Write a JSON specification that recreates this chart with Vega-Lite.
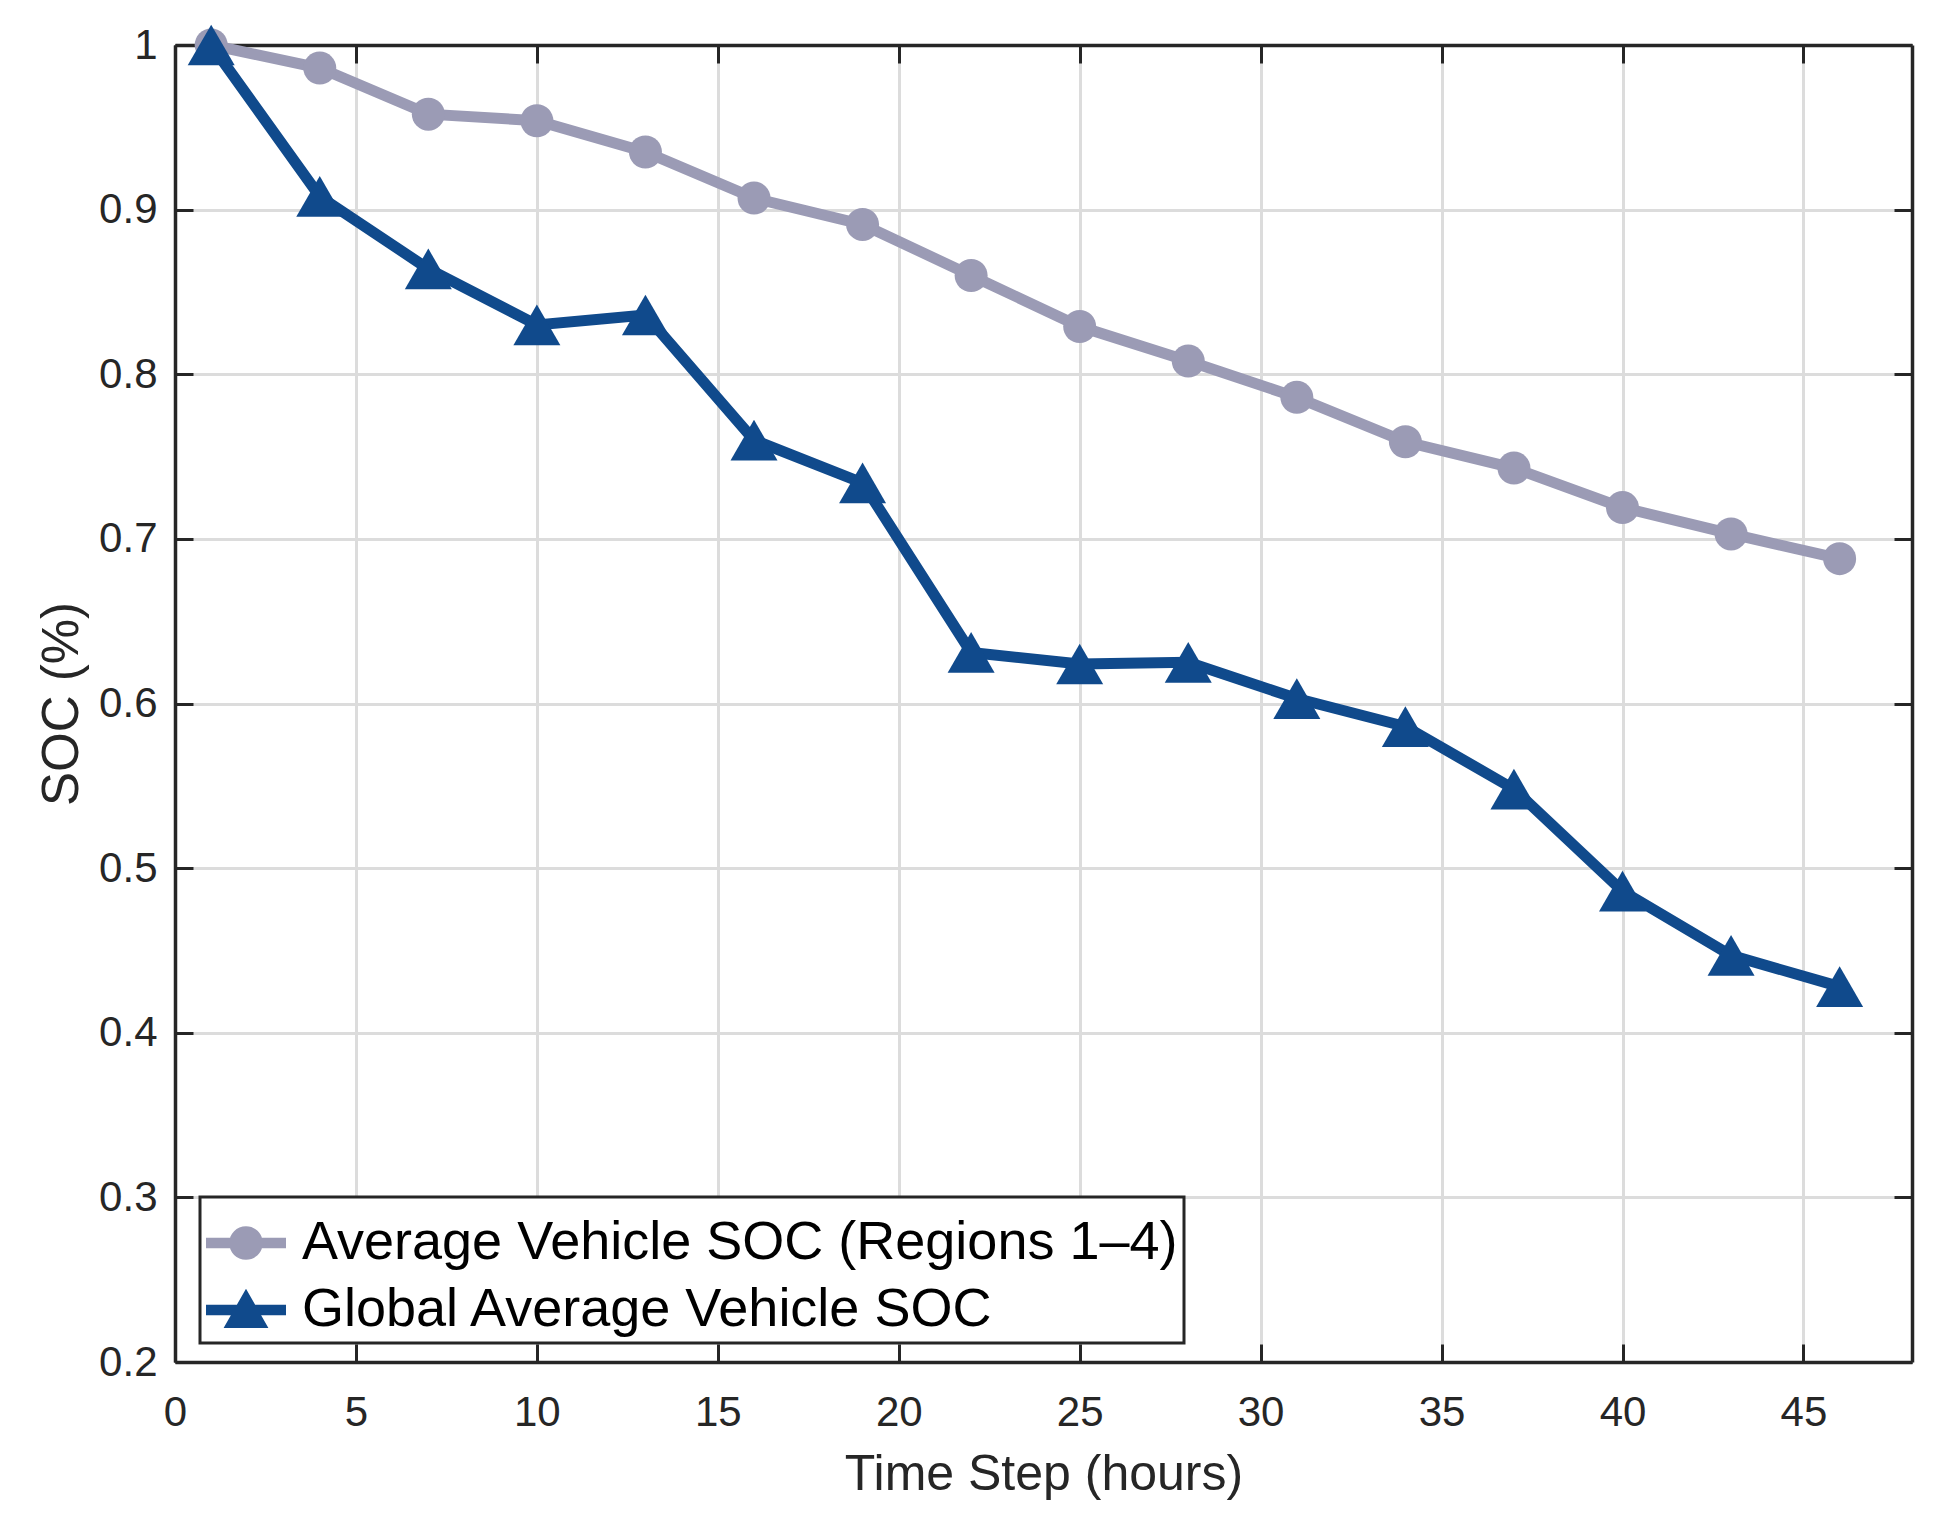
{
  "$schema": "https://vega.github.io/schema/vega-lite/v6.json",
  "width": 1737,
  "height": 1317,
  "autosize": {"type": "none"},
  "padding": {"left": 175, "top": 45, "right": 33, "bottom": 158},
  "background": "white",
  "config": {
    "view": {"stroke": null},
    "font": "Liberation Sans",
    "axis": {
      "domainColor": "#262626",
      "domainWidth": 3.5,
      "tickColor": "#262626",
      "tickWidth": 3,
      "tickSize": -18,
      "labelColor": "#262626",
      "labelFont": "Liberation Sans",
      "labelFontSize": 42,
      "titleColor": "#262626",
      "titleFont": "Liberation Sans",
      "titleFontSize": 51,
      "titleFontWeight": "normal",
      "gridColor": "#DCDCDC",
      "gridWidth": 3
    }
  },
  "data": {
    "values": [
      {"t": 1, "soc": 1.0, "series": "Average Vehicle SOC (Regions 1–4)"},
      {"t": 4, "soc": 0.986, "series": "Average Vehicle SOC (Regions 1–4)"},
      {"t": 7, "soc": 0.958, "series": "Average Vehicle SOC (Regions 1–4)"},
      {"t": 10, "soc": 0.954, "series": "Average Vehicle SOC (Regions 1–4)"},
      {"t": 13, "soc": 0.935, "series": "Average Vehicle SOC (Regions 1–4)"},
      {"t": 16, "soc": 0.907, "series": "Average Vehicle SOC (Regions 1–4)"},
      {"t": 19, "soc": 0.891, "series": "Average Vehicle SOC (Regions 1–4)"},
      {"t": 22, "soc": 0.860, "series": "Average Vehicle SOC (Regions 1–4)"},
      {"t": 25, "soc": 0.829, "series": "Average Vehicle SOC (Regions 1–4)"},
      {"t": 28, "soc": 0.808, "series": "Average Vehicle SOC (Regions 1–4)"},
      {"t": 31, "soc": 0.786, "series": "Average Vehicle SOC (Regions 1–4)"},
      {"t": 34, "soc": 0.759, "series": "Average Vehicle SOC (Regions 1–4)"},
      {"t": 37, "soc": 0.743, "series": "Average Vehicle SOC (Regions 1–4)"},
      {"t": 40, "soc": 0.719, "series": "Average Vehicle SOC (Regions 1–4)"},
      {"t": 43, "soc": 0.703, "series": "Average Vehicle SOC (Regions 1–4)"},
      {"t": 46, "soc": 0.688, "series": "Average Vehicle SOC (Regions 1–4)"},
      {"t": 1, "soc": 1.0, "series": "Global Average Vehicle SOC"},
      {"t": 4, "soc": 0.908, "series": "Global Average Vehicle SOC"},
      {"t": 7, "soc": 0.864, "series": "Global Average Vehicle SOC"},
      {"t": 10, "soc": 0.830, "series": "Global Average Vehicle SOC"},
      {"t": 13, "soc": 0.836, "series": "Global Average Vehicle SOC"},
      {"t": 16, "soc": 0.760, "series": "Global Average Vehicle SOC"},
      {"t": 19, "soc": 0.734, "series": "Global Average Vehicle SOC"},
      {"t": 22, "soc": 0.631, "series": "Global Average Vehicle SOC"},
      {"t": 25, "soc": 0.624, "series": "Global Average Vehicle SOC"},
      {"t": 28, "soc": 0.625, "series": "Global Average Vehicle SOC"},
      {"t": 31, "soc": 0.603, "series": "Global Average Vehicle SOC"},
      {"t": 34, "soc": 0.586, "series": "Global Average Vehicle SOC"},
      {"t": 37, "soc": 0.548, "series": "Global Average Vehicle SOC"},
      {"t": 40, "soc": 0.486, "series": "Global Average Vehicle SOC"},
      {"t": 43, "soc": 0.447, "series": "Global Average Vehicle SOC"},
      {"t": 46, "soc": 0.428, "series": "Global Average Vehicle SOC"}
    ]
  },
  "layer": [
    {
      "mark": {"type": "line", "strokeWidth": 11, "strokeJoin": "miter", "strokeCap": "butt"},
      "encoding": {
        "x": {
          "field": "t", "type": "quantitative",
          "scale": {"domain": [0, 48], "nice": false, "zero": false},
          "axis": {
            "orient": "bottom",
            "values": [0, 5, 10, 15, 20, 25, 30, 35, 40, 45],
            "title": "Time Step (hours)",
            "titleFontSize": 50,
            "labelPadding": 48,
            "titlePadding": 16,
            "grid": true,
            "labelFlush": false
          }
        },
        "y": {
          "field": "soc", "type": "quantitative",
          "scale": {"domain": [0.2, 1], "nice": false, "zero": false},
          "axis": {
            "orient": "left",
            "values": [0.2, 0.3, 0.4, 0.5, 0.6, 0.7, 0.8, 0.9, 1],
            "format": "~g",
            "title": "SOC (%)",
            "labelPadding": 36,
            "titlePadding": 10,
            "grid": true,
            "labelFlush": false
          }
        },
        "color": {
          "field": "series", "type": "nominal",
          "scale": {
            "domain": ["Average Vehicle SOC (Regions 1–4)", "Global Average Vehicle SOC"],
            "range": ["#9B9BB5", "#104A8C"]
          },
          "legend": {
            "orient": "none",
            "legendX": 25,
            "legendY": 1152,
            "title": null,
            "labelFont": "Liberation Sans",
            "labelFontSize": 54,
            "labelColor": "#000000",
            "labelLimit": 2000,
            "labelOffset": 16,
            "symbolSize": 6400,
            "symbolStrokeWidth": 0,
            "symbolType": "M-1,-0.13L1,-0.13L1,0.13L-1,0.13ZM-0.42,0A0.42,0.42,0,1,1,0.42,0A0.42,0.42,0,1,1,-0.42,0Z",
            "rowPadding": 0,
            "padding": 6,
            "fillColor": "white",
            "strokeColor": "#262626",
            "encode": {
              "legend": {"update": {"strokeWidth": {"value": 3}}},
              "symbols": {
                "update": {
                  "shape": {"signal": "indexof(datum.value, 'Global') >= 0 ? 'M-1,-0.13L1,-0.13L1,0.13L-1,0.13ZM0,-0.53L0.56,0.45L-0.56,0.45Z' : 'M-1,-0.13L1,-0.13L1,0.13L-1,0.13ZM-0.42,0A0.42,0.42,0,1,1,0.42,0A0.42,0.42,0,1,1,-0.42,0Z'"},
                  "fill": {"signal": "indexof(datum.value, 'Global') >= 0 ? '#104A8C' : '#9B9BB5'"},
                  "fillOpacity": {"value": 1},
                  "opacity": {"value": 1},
                  "strokeWidth": {"value": 0}
                }
              }
            }
          }
        }
      }
    },
    {
      "mark": {"type": "point", "filled": true, "opacity": 1},
      "encoding": {
        "x": {
          "field": "t", "type": "quantitative",
          "axis": {
            "orient": "top",
            "values": [0, 5, 10, 15, 20, 25, 30, 35, 40, 45],
            "labels": false,
            "title": null,
            "grid": false
          }
        },
        "y": {
          "field": "soc", "type": "quantitative",
          "axis": {
            "orient": "right",
            "values": [0.2, 0.3, 0.4, 0.5, 0.6, 0.7, 0.8, 0.9, 1],
            "labels": false,
            "title": null,
            "grid": false
          }
        },
        "color": {"field": "series", "type": "nominal", "legend": null},
        "shape": {
          "condition": {"test": "datum.series === 'Global Average Vehicle SOC'", "value": "triangle-up"},
          "value": "circle"
        },
        "size": {
          "condition": {"test": "datum.series === 'Global Average Vehicle SOC'", "value": 2209},
          "value": 1089
        }
      }
    }
  ]
}
